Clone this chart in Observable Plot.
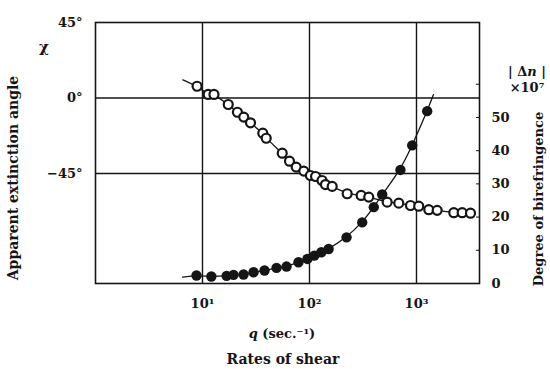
<!DOCTYPE html>
<html><head><meta charset="utf-8">
<script src="https://cdn.jsdelivr.net/npm/d3@7"></script>
<script src="https://cdn.jsdelivr.net/npm/@observablehq/plot@0.6"></script>
<style>
body{margin:0;background:#fff}
#chart svg{display:block}
</style>
</head><body><div id="chart"></div>
<script>
// Apparent extinction angle (open circles), degrees, vs rate of shear q (sec^-1)
const openQ = [8.9, 11.3, 12.8, 17.4, 21.2, 24.3, 28.1, 36.6, 39.4, 55.6, 65.0, 75.1, 88.5, 102, 114, 131, 141, 163, 225, 304, 358, 532, 683, 879, 1050, 1303, 1561, 2232, 2674, 3198];
const openAngle = [7.0, 2.1, 2.1, -3.9, -8.5, -11.4, -14.8, -21.0, -24.0, -32.9, -37.7, -41.2, -43.6, -46.2, -46.8, -49.2, -51.6, -52.7, -57.1, -58.1, -59.1, -62.1, -62.7, -64.1, -64.5, -66.6, -67.0, -68.4, -68.4, -68.7];
// Degree of birefringence |Δn|×10^7 (filled circles)
const filledQ = [8.79, 12.1, 16.8, 19.5, 24.2, 30.0, 38.0, 49.2, 61.0, 78.9, 95.7, 111, 129, 151, 222, 311, 399, 478, 708, 912, 1259];
const filledBiref = [2.4, 2.1, 2.3, 2.6, 2.7, 3.4, 3.9, 4.7, 5.1, 6.4, 7.4, 8.4, 9.4, 10.4, 13.9, 18.4, 23.0, 26.8, 34.2, 41.6, 51.9];
// fitted curve extensions beyond the data
const openCurveStartQ = [6.55];
const openCurveStartAngle = [10.8];
const filledCurveStartQ = [6.5];
const filledCurveStartBiref = [1.9];
const filledCurveEndQ = [1442];
const filledCurveEndBiref = [56.9];

// axes
const xDomain = [1, 3881];
const angleDomain = [-110.6, 45];
const birefDomain = [0, 78.6];
const xTicks = [10, 100, 1000];
const xTickLabels = ["10¹", "10²", "10³"];
const angleTicks = [45, 0, -45];
const angleTickLabels = ["45°", "0°", "−45°"];
const angleGrid = [0, -45];
const birefTicks = [0, 10, 20, 30, 40, 50];
const birefTickMarks = [0, 10, 20, 30, 40, 50, 60];

const toAngle = v => angleDomain[0] + (v - birefDomain[0]) * (angleDomain[1] - angleDomain[0]) / (birefDomain[1] - birefDomain[0]);
const fromAngle = a => birefDomain[0] + (a - angleDomain[0]) * (birefDomain[1] - birefDomain[0]) / (angleDomain[1] - angleDomain[0]);

const openData = openQ.map((q, i) => ({q, a: openAngle[i]}));
const openLine = openCurveStartQ.map((q, i) => ({q, a: openCurveStartAngle[i]})).concat(openData);
const filledData = filledQ.map((q, i) => ({q, a: toAngle(filledBiref[i])}));
const filledLine = filledCurveStartQ.map((q, i) => ({q, a: toAngle(filledCurveStartBiref[i])}))
  .concat(filledData)
  .concat(filledCurveEndQ.map((q, i) => ({q, a: toAngle(filledCurveEndBiref[i])})));

const ink = "#151515";
const font = "DejaVu Serif";

const plot = Plot.plot({
  width: 550, height: 369,
  marginLeft: 95, marginRight: 71, marginTop: 22, marginBottom: 86,
  style: {fontFamily: font, fontSize: "13px", fontWeight: "bold", color: ink, background: "#fff"},
  x: {type: "log", domain: xDomain},
  y: {domain: angleDomain},
  marks: [
    Plot.ruleX(xTicks, {stroke: ink, strokeWidth: 1.4}),
    Plot.ruleY(angleGrid, {stroke: ink, strokeWidth: 1.4}),
    Plot.frame({stroke: ink, strokeWidth: 1.6}),
    Plot.axisX(xTicks, {tickSize: 0, tickPadding: 15, tickFormat: (d) => xTickLabels[xTicks.indexOf(d)], label: null, fontSize: 13}),
    Plot.axisY(angleTicks, {anchor: "left", tickSize: 0, tickPadding: 13, tickFormat: (d) => angleTickLabels[angleTicks.indexOf(d)], label: null, fontSize: 13}),
    Plot.axisY(birefTickMarks.map(toAngle), {anchor: "right", tickSize: 4, dx: -4, fill: "none", stroke: ink, label: null}),
    Plot.axisY(birefTicks.map(toAngle), {anchor: "right", tickSize: 0, tickPadding: 12, tickFormat: a => String(Math.round(fromAngle(a))), label: null, fontSize: 13}),
    Plot.line(openLine, {x: "q", y: "a", curve: "basis", stroke: ink, strokeWidth: 1.3}),
    Plot.line(filledLine, {x: "q", y: "a", curve: "basis", stroke: ink, strokeWidth: 1.3}),
    Plot.dot(openData, {x: "q", y: "a", r: 4.5, fill: "#fff", stroke: ink, strokeWidth: 2.2}),
    Plot.dot(filledData, {x: "q", y: "a", r: 5.2, fill: ink, stroke: "none"})
  ]
});

const svg = d3.select(plot);
function addText(x, y, parts, opts = {}) {
  const t = svg.append("text")
    .attr("x", x).attr("y", y)
    .attr("text-anchor", opts.anchor || "middle")
    .attr("font-family", font)
    .attr("font-weight", opts.weight || "bold")
    .attr("font-size", opts.size || 14)
    .attr("fill", ink);
  if (opts.rotate) t.attr("transform", `rotate(${opts.rotate},${x},${y})`);
  for (const p of parts) {
    const s = t.append("tspan").text(p.t);
    if (p.italic) s.attr("font-style", "italic");
  }
  return t;
}
addText(18, 178, [{t: "Apparent extinction angle"}], {rotate: -90, size: 14});
addText(543, 199, [{t: "Degree of birefringence"}], {rotate: -90, size: 13});
addText(44, 52, [{t: "χ"}], {size: 15});
addText(527, 76, [{t: "| Δ"}, {t: "n", italic: true}, {t: " |"}], {size: 13});
addText(527, 92, [{t: "×10⁷"}], {size: 13});
addText(282, 338, [{t: "q", italic: true}, {t: " (sec.⁻¹)"}], {size: 13});
addText(283, 364, [{t: "Rates of shear"}], {size: 14});

document.getElementById("chart").appendChild(plot);
</script>
</body></html>
